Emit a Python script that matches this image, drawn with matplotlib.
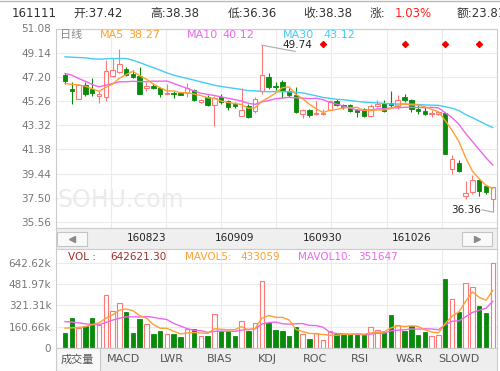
import numpy as np
import pandas as pd
import matplotlib
matplotlib.use('Agg')
import matplotlib.pyplot as plt
from matplotlib.patches import Rectangle
from matplotlib.lines import Line2D
import matplotlib.transforms as mtransforms

plt.rcParams['font.family'] = ['DejaVu Sans', 'Noto Sans CJK SC']

# daily candles, oldest first
opens = [47.39, 46.19, 45.46, 46.53, 46.19, 45.65, 45.60, 47.26, 47.60, 47.87,
         47.47, 47.28, 46.27, 46.48, 46.27, 45.86, 45.92, 45.92, 45.92, 46.13,
         45.22, 45.60, 44.98, 45.60, 45.25, 45.06, 44.04, 44.85, 44.45, 46.05,
         47.20, 46.50, 46.80, 46.08, 45.73, 44.26, 44.58, 44.23, 44.23, 44.58,
         45.27, 44.93, 44.98, 44.58, 44.66, 44.04, 44.87, 45.11, 45.11, 44.85,
         45.62, 45.38, 44.66, 44.45, 44.26, 44.21, 44.31, 39.84, 40.30, 37.68,
         37.97, 38.96, 38.45, 37.42]
highs = [47.52, 46.80, 46.59, 46.80, 47.07, 46.08, 48.54, 48.75, 49.40, 48.00,
         47.74, 48.00, 46.75, 46.67, 46.40, 46.59, 46.05, 46.00, 46.67, 46.19,
         45.46, 45.73, 45.65, 45.81, 45.38, 45.20, 46.27, 45.06, 45.60, 49.74,
         47.50, 46.80, 46.94, 46.27, 46.40, 44.60, 44.66, 45.25, 44.66, 45.33,
         45.41, 45.06, 45.06, 44.66, 44.70, 45.06, 45.33, 45.33, 46.05, 45.73,
         45.80, 45.46, 44.93, 44.80, 44.53, 44.45, 44.39, 40.91, 40.51, 38.83,
         39.31, 39.04, 38.51, 38.38]
lows = [46.59, 45.01, 45.41, 45.65, 45.65, 45.11, 45.25, 47.20, 47.52, 47.26,
        47.15, 45.81, 46.08, 46.19, 45.60, 45.81, 45.52, 45.73, 45.60, 45.27,
        45.11, 44.85, 43.24, 45.06, 44.53, 44.71, 44.04, 43.91, 44.34, 45.86,
        46.20, 46.13, 45.52, 45.60, 44.34, 43.94, 43.99, 44.12, 44.18, 44.53,
        44.87, 44.66, 44.39, 43.99, 43.99, 43.99, 44.80, 44.39, 44.80, 44.66,
        45.22, 44.39, 44.26, 44.13, 44.00, 44.18, 41.00, 39.39, 39.58, 37.43,
        37.84, 37.62, 37.84, 36.36]
closes = [46.85, 46.08, 46.53, 45.86, 45.92, 45.81, 47.68, 47.79, 48.27, 47.34,
          47.20, 45.81, 46.45, 46.32, 45.86, 45.92, 45.81, 45.78, 46.27, 45.33,
          45.33, 44.93, 45.52, 45.20, 44.79, 44.85, 44.58, 43.99, 45.46, 47.34,
          46.35, 46.37, 46.13, 45.78, 44.39, 44.58, 44.12, 44.34, 44.29, 45.25,
          44.93, 44.77, 44.45, 44.39, 44.04, 44.85, 45.01, 44.45, 44.93, 45.37,
          45.37, 44.62, 44.47, 44.21, 44.31, 44.39, 41.05, 40.65, 39.66, 37.89,
          38.91, 38.05, 37.99, 38.38]
# volume in thousands
volumes = [113, 229, 150, 162, 229, 175, 401, 278, 342, 273,
           113, 216, 182, 106, 130, 106, 106, 81, 143, 145,
           89, 93, 253, 125, 125, 93, 207, 130, 187, 507,
           192, 138, 130, 89, 155, 106, 71, 113, 64, 125,
           106, 106, 106, 99, 99, 156, 136, 119, 247, 175,
           131, 163, 99, 119, 89, 99, 520, 372, 274, 490,
           457, 316, 262, 642.62]

# first values of the averages come from days before the window
ma5_head = [46.67, 46.60, 46.55, 46.45]
ma10_head = [47.47, 47.34, 47.07, 46.85, 46.59, 46.40, 46.53, 46.67, 46.80]
ma30_head = [48.81, 48.78, 48.75, 48.73, 48.65, 48.62, 48.65, 48.67, 48.67, 48.67,
             48.54, 48.35, 48.14, 47.95, 47.74, 47.52, 47.34, 47.20, 47.07, 46.94,
             46.80, 46.67, 46.53, 46.43, 46.35, 46.27, 46.19, 46.10, 46.08]
mavol5_head = [150, 152, 155, 160]
mavol10_head = [199, 195, 190, 182, 177, 175, 192, 210, 224]

# values printed in the legends
ma_labels = ['38.27', '40.12', '43.12']
vol_legend = ['642621.30', '433059', '351647']

price_ticks = [35.56, 37.50, 39.44, 41.38, 43.32, 45.26, 47.20, 49.14, 51.08]
vol_ticks = [0, 160.66, 321.31, 481.97, 642.62]
vol_labels = ['0', '160.66k', '321.31k', '481.97k', '642.62k']
date_labels = ['160823', '160909', '160930', '161026']
date_idx = [12, 25, 38, 51]
event_idx = [38, 50, 56, 61]
tabs = ['成交量', 'MACD', 'LWR', 'BIAS', 'KDJ', 'ROC', 'RSI', 'W&R', 'SLOWD']
tab_x = [77, 124, 172, 220, 267, 315, 360, 409, 459]

RED = '#ff7878'
GREEN = '#0a8a0a'
C_MA5 = '#ffa030'
C_MA10 = '#ee66ee'
C_MA30 = '#44ccf5'
GRID = '#ebebeb'

df = pd.DataFrame({'open': opens, 'high': highs, 'low': lows,
                   'close': closes, 'vol': volumes})
ma5 = df['close'].rolling(5).mean().values
ma5[:4] = ma5_head
ma10 = df['close'].rolling(10).mean().values
ma10[:9] = ma10_head
ma30 = df['close'].rolling(30).mean().values
ma30[:29] = ma30_head
mavol5 = df['vol'].rolling(5).mean().values
mavol5[:4] = mavol5_head
mavol10 = df['vol'].rolling(10).mean().values
mavol10[:9] = mavol10_head

W, H = 500, 371


def box(x0, y0, x1, y1):
    return [x0 / W, 1 - y1 / H, (x1 - x0) / W, (y1 - y0) / H]


fig = plt.figure(figsize=(5, 3.71), dpi=100)
fig.add_artist(Line2D([0, 1], [1 - 0.6 / H, 1 - 0.6 / H], color='#bbbbbb', lw=1))

x = np.arange(len(df))
o = df['open'].values
c = df['close'].values
hi = df['high'].values
lo = df['low'].values
up = c >= o
dn = ~up
XL = (-1.40, 63.62)
vgrid = np.linspace(XL[0], XL[1], 9)[1:-1]
BW = 0.66

# ---- price panel
ax = fig.add_axes(box(55.5, 28.5, 497, 228))
ax.set_xlim(*XL)
ax.set_ylim(35.08, 51.08)
for v in price_ticks:
    ax.axhline(v, color=GRID, lw=0.8, zorder=0)
for v in vgrid:
    ax.axvline(v, color=GRID, lw=0.8, zorder=0)

ax.vlines(x[dn], lo[dn], hi[dn], color=GREEN, lw=0.8, zorder=2)
ax.bar(x[dn], np.maximum(o[dn] - c[dn], 0.04), bottom=c[dn], width=BW,
       color=GREEN, edgecolor=GREEN, lw=0.6, zorder=2)
ax.vlines(x[up], lo[up], o[up], color=RED, lw=0.8, zorder=2)
ax.vlines(x[up], c[up], hi[up], color=RED, lw=0.8, zorder=2)
ax.bar(x[up], np.maximum(c[up] - o[up], 0.04), bottom=o[up], width=BW,
       facecolor='white', edgecolor=RED, lw=0.8, zorder=2)

ax.plot(x, ma30, color=C_MA30, lw=1.0, zorder=3)
ax.plot(x, ma10, color=C_MA10, lw=1.0, zorder=3)
ax.plot(x, ma5, color=C_MA5, lw=1.0, zorder=3)

trans = mtransforms.blended_transform_factory(ax.transData, ax.transAxes)
ax.scatter(event_idx, [0.921] * len(event_idx), transform=trans, marker='D',
           s=9, color='#ee0000', zorder=4)

# high / low notes
ih = int(np.argmax(hi))
ax.plot([ih, ih + 4.9], [hi[ih], hi[ih] - 0.5], color='#aaaaaa', lw=0.8)
ax.text(ih + 3.0, hi[ih] + 0.05, f'{hi[ih]:.2f}', fontsize=7.5, color='#222222',
        ha='left', va='center')
il = int(np.argmin(lo))
ax.plot([il - 1.6, il], [lo[il] + 0.18, lo[il]], color='#aaaaaa', lw=0.8)
ax.text(il - 1.7, lo[il] + 0.2, f'{lo[il]:.2f}', fontsize=7.5, color='#222222',
        ha='right', va='center')

ax.text(0.010, 0.965, '日线', transform=ax.transAxes, fontsize=8, color='#888888', va='center')
ax.text(0.101, 0.965, 'MA5', transform=ax.transAxes, fontsize=8, color=C_MA5, va='center')
ax.text(0.165, 0.965, ma_labels[0], transform=ax.transAxes, fontsize=8, color=C_MA5, va='center')
ax.text(0.298, 0.965, 'MA10', transform=ax.transAxes, fontsize=8, color=C_MA10, va='center')
ax.text(0.378, 0.965, ma_labels[1], transform=ax.transAxes, fontsize=8, color=C_MA10, va='center')
ax.text(0.515, 0.965, 'MA30', transform=ax.transAxes, fontsize=8, color=C_MA30, va='center')
ax.text(0.606, 0.965, ma_labels[2], transform=ax.transAxes, fontsize=8, color=C_MA30, va='center')
ax.text(0.005, 0.14, 'SOHU.com', transform=ax.transAxes, fontsize=17, color='#ebebeb',
        va='center', zorder=1)

ax.set_yticks(price_ticks)
ax.set_yticklabels([f'{v:.2f}' for v in price_ticks])
ax.set_xticks([])
ax.tick_params(axis='y', length=0, pad=3, labelsize=7.5, labelcolor='#777777')
for s in ax.spines.values():
    s.set_color('#cccccc')
    s.set_linewidth(0.8)

# ---- navigation strip
nav = fig.add_axes(box(55.5, 228, 497, 249))
nav.set_facecolor('#efefef')
nav.set_xlim(*XL)
nav.set_ylim(0, 1)
nav.set_xticks([])
nav.set_yticks([])
for s in nav.spines.values():
    s.set_color('#cccccc')
    s.set_linewidth(0.8)
for bx in [(57 - 55.5) / 441.5, (462 - 55.5) / 441.5]:
    nav.add_patch(Rectangle((bx, 0.15), 30 / 441.5, 0.68, transform=nav.transAxes,
                            facecolor='#f9f9f9', edgecolor='#c4c4c4', lw=0.8))
nav.plot([(72 - 55.5) / 441.5], [0.49], marker='<', ms=5, color='#8a8a8a',
         transform=nav.transAxes)
nav.plot([(477 - 55.5) / 441.5], [0.49], marker='>', ms=5, color='#8a8a8a',
         transform=nav.transAxes)
for i, lab in zip(date_idx, date_labels):
    nav.text(i, 0.52, lab, fontsize=7.5, color='#222222', ha='center', va='center')

# ---- volume panel
vax = fig.add_axes(box(55.5, 249, 497, 348))
vax.set_xlim(*XL)
vax.set_ylim(0, 745.8)
for v in vol_ticks:
    vax.axhline(v, color=GRID, lw=0.8, zorder=0)
for v in vgrid:
    vax.axvline(v, color=GRID, lw=0.8, zorder=0)
vol = df['vol'].values
vax.bar(x[dn], vol[dn], width=BW, color=GREEN, edgecolor=GREEN, lw=0.6, zorder=2)
vax.bar(x[up], vol[up], width=BW, facecolor='white', edgecolor=RED, lw=0.8, zorder=2)
vax.plot(x, mavol10, color=C_MA10, lw=1.0, zorder=3)
vax.plot(x, mavol5, color=C_MA5, lw=1.0, zorder=3)

vax.text(0.028, 0.92, 'VOL :', transform=vax.transAxes, fontsize=7.5, color='#a52a2a', va='center')
vax.text(0.124, 0.92, vol_legend[0], transform=vax.transAxes, fontsize=7.5,
         color='#a52a2a', va='center')
vax.text(0.293, 0.92, 'MAVOL5:', transform=vax.transAxes, fontsize=7.5, color=C_MA5, va='center')
vax.text(0.418, 0.92, vol_legend[1], transform=vax.transAxes, fontsize=7.5, color=C_MA5, va='center')
vax.text(0.549, 0.92, 'MAVOL10:', transform=vax.transAxes, fontsize=7.5, color=C_MA10, va='center')
vax.text(0.685, 0.92, vol_legend[2], transform=vax.transAxes, fontsize=7.5, color=C_MA10, va='center')

vax.set_yticks(vol_ticks)
vax.set_yticklabels(vol_labels)
vax.set_xticks([])
vax.tick_params(axis='y', length=0, pad=3, labelsize=7.5, labelcolor='#777777')
for s in vax.spines.values():
    s.set_color('#cccccc')
    s.set_linewidth(0.8)

# ---- indicator tabs
tab = fig.add_axes(box(55.5, 348, 497, 371))
tab.set_facecolor('#eeeeee')
tab.set_xlim(55.5, 497)
tab.set_ylim(0, 1)
tab.set_xticks([])
tab.set_yticks([])
for s in tab.spines.values():
    s.set_color('#cccccc')
    s.set_linewidth(0.8)
tab.add_patch(Rectangle((55.5, 0.0), 44.5, 1.0, facecolor='#f8f8f8',
                        edgecolor='#c8c8c8', lw=0.8))
for tx, name in zip(tab_x, tabs):
    tab.text(tx, 0.5, name, fontsize=8, color='#555555', ha='center', va='center')

# ---- header line (the last item runs off the right edge, as in the original)
head = [(12, '161111', '#333333'), (73, '开:37.42', '#333333'),
        (150, '高:38.38', '#333333'), (228, '低:36.36', '#333333'),
        (303, '收:38.38', '#333333'), (370, '涨:', '#333333'),
        (395, '1.03%', '#ff2020'), (457, '额:23.810亿', '#333333')]
for hx, txt, col in head:
    fig.text(hx / W, 1 - 13.5 / H, txt, fontsize=8.5, color=col, va='center', ha='left')

fig.savefig('out.png', dpi=100)
